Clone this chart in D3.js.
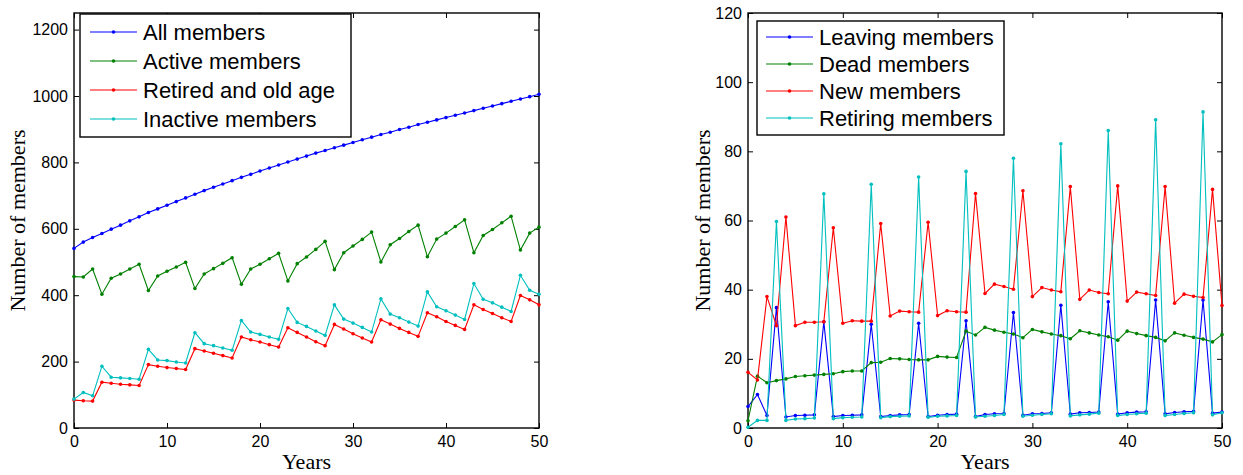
<!DOCTYPE html>
<html>
<head>
<meta charset="utf-8">
<script src="https://cdn.jsdelivr.net/npm/d3@7"></script>
<style>
  body { margin: 0; background: #fff; }
  svg { display: block; }
</style>
</head>
<body>
<svg id="chart"></svg>
<script>
// x values (years 0..50)
const years = d3.range(0, 51);

// left panel: stock of members
const allMembers = [541, 560, 574, 586, 599, 611, 624, 636, 649, 660, 671, 682, 693, 704, 715, 725, 735, 745, 755, 764,
  774, 783, 792, 801, 810, 819, 828, 836, 844, 852, 860, 868, 876, 884, 891, 899, 906, 914, 921, 928,
  935, 942, 949, 956, 963, 970, 977, 984, 991, 998, 1005];
const activeMembers = [456, 455, 479, 403, 451, 464, 479, 493, 414, 458, 472, 485, 499, 420, 464, 480, 496, 513, 433, 479,
  493, 510, 526, 443, 495, 515, 538, 562, 477, 528, 548, 568, 590, 500, 552, 571, 592, 611, 516, 569,
  587, 607, 627, 528, 580, 598, 618, 638, 536, 587, 605];
const retiredMembers = [84, 82, 81, 138, 135, 132, 130, 128, 191, 186, 182, 179, 176, 239, 232, 225, 218, 211, 274, 266,
  259, 251, 244, 302, 288, 274, 260, 248, 312, 298, 284, 271, 259, 326, 313, 300, 288, 276, 347, 335,
  321, 309, 297, 371, 357, 345, 332, 321, 399, 386, 371];
const inactiveMembers = [87, 107, 97, 186, 153, 151, 149, 147, 237, 205, 203, 199, 196, 287, 254, 248, 241, 234, 324, 289,
  282, 274, 267, 360, 318, 306, 292, 279, 371, 328, 316, 303, 289, 389, 343, 332, 319, 307, 410, 365,
  353, 340, 327, 435, 388, 377, 364, 351, 460, 415, 403];

// right panel: flows of members
const leavingMembers = [6.2, 9.7, 3.6, 34.8, 3.2, 3.6, 3.7, 3.8, 30.7, 3.3, 3.6, 3.7, 3.8, 30.0, 3.3, 3.6, 3.8, 3.9, 30.3, 3.3,
  3.7, 3.9, 4.0, 31.0, 3.3, 3.9, 4.1, 4.2, 33.4, 3.7, 4.1, 4.2, 4.4, 35.5, 4.0, 4.4, 4.5, 4.6, 36.5, 4.0,
  4.4, 4.6, 4.7, 37.0, 4.1, 4.5, 4.7, 4.8, 37.0, 4.3, 4.6];
const deadMembers = [2.1, 15.0, 13.1, 13.7, 14.2, 14.9, 15.1, 15.3, 15.5, 15.7, 16.3, 16.5, 16.5, 18.9, 19.0, 20.1, 20.0, 19.8, 19.7, 19.7,
  20.7, 20.5, 20.4, 28.0, 26.9, 29.1, 28.3, 27.7, 27.2, 26.1, 28.5, 27.8, 27.2, 26.7, 25.8, 28.1, 27.5, 26.9, 26.4, 25.4,
  28.0, 27.3, 26.7, 26.2, 25.2, 27.5, 26.8, 26.2, 25.7, 24.9, 27.0];
const newMembers = [16.1, 13.9, 38.0, 29.6, 61.0, 29.6, 30.6, 30.6, 30.7, 57.9, 30.3, 31.0, 30.9, 30.9, 59.1, 32.4, 33.8, 33.6, 33.5, 59.5,
  32.5, 33.9, 33.6, 33.5, 67.8, 38.9, 41.6, 40.9, 40.1, 68.6, 38.0, 40.6, 39.9, 39.4, 69.8, 37.2, 39.9, 39.2, 38.8, 70.0,
  36.7, 39.3, 38.8, 38.3, 69.8, 36.1, 38.7, 38.1, 37.7, 69.0, 35.4];
const retiringMembers = [0.2, 2.2, 2.2, 59.7, 2.2, 2.6, 2.7, 2.9, 67.7, 2.7, 3.0, 3.1, 3.2, 70.5, 3.0, 3.3, 3.4, 3.5, 72.6, 3.1,
  3.4, 3.5, 3.6, 74.2, 3.2, 3.4, 3.6, 3.9, 78.0, 3.4, 3.7, 3.9, 4.1, 82.2, 3.5, 3.8, 4.0, 4.3, 86.0, 3.6,
  3.9, 4.1, 4.3, 89.1, 3.6, 3.9, 4.2, 4.4, 91.4, 3.8, 4.4];

const leftNames = ['All members', 'Active members', 'Retired and old age', 'Inactive members'];
const rightNames = ['Leaving members', 'Dead members', 'New members', 'Retiring members'];
const leftTicksY = [0, 200, 400, 600, 800, 1000, 1200];
const rightTicksY = [0, 20, 40, 60, 80, 100, 120];
const ticksX = [0, 10, 20, 30, 40, 50];

const colors = ['#0000ff', '#008000', '#ff0000', '#00bfbf'];

const W = 1243, H = 475;
const svg = d3.select('#chart').attr('width', W).attr('height', H);
svg.append('rect').attr('width', W).attr('height', H).attr('fill', '#fff');

const sans = 'Liberation Sans, Arial, sans-serif';
const serif = 'Liberation Serif, Times New Roman, serif';

function panel(opt) {
  const x = d3.scaleLinear().domain([0, 50]).range([opt.x0, opt.x1]);
  const y = d3.scaleLinear().domain([0, opt.ymax]).range([opt.yb, opt.yt]);
  const g = svg.append('g');

  // ticks pointing inwards, MATLAB style
  g.append('g')
  .attr('transform', `translate(0, ${opt.yb})`)
  .call(d3.axisBottom(x).tickValues(ticksX).tickFormat(d3.format('d'))
    .tickSizeInner(-5).tickSizeOuter(0).tickPadding(8));
  g.append('g')
  .attr('transform', `translate(0, ${opt.yt})`)
  .call(d3.axisTop(x).tickValues(ticksX).tickSizeInner(-5).tickSizeOuter(0).tickFormat(''));
  g.append('g')
  .attr('transform', `translate(${opt.x0}, 0)`)
  .call(d3.axisLeft(y).tickValues(opt.ticksY).tickFormat(d3.format('d'))
    .tickSizeInner(-5).tickSizeOuter(0).tickPadding(6));
  g.append('g')
  .attr('transform', `translate(${opt.x1}, 0)`)
  .call(d3.axisRight(y).tickValues(opt.ticksY).tickSizeInner(-5).tickSizeOuter(0).tickFormat(''));

  g.selectAll('.domain').remove();
  g.selectAll('.tick line').attr('stroke', '#000');
  g.selectAll('.tick text')
  .style('font-family', sans)
  .style('font-size', '16px')
  .attr('fill', '#000');

  g.append('rect')
  .attr('x', opt.x0).attr('y', opt.yt)
  .attr('width', opt.x1 - opt.x0).attr('height', opt.yb - opt.yt)
  .attr('fill', 'none').attr('stroke', '#000').attr('stroke-width', 1.4);

  const line = d3.line().x((d, i) => x(years[i])).y(d => y(d));

  opt.series.forEach((s, k) => {
    g.append('path')
    .datum(s)
    .attr('d', line)
    .attr('fill', 'none')
    .attr('stroke', colors[k])
    .attr('stroke-width', 1.1);
    g.selectAll(null)
    .data(s)
    .enter()
    .append('circle')
    .attr('cx', (d, i) => x(years[i]))
    .attr('cy', d => y(d))
    .attr('r', 1.8)
    .attr('fill', colors[k]);
  });

  g.append('text')
  .attr('x', (opt.x0 + opt.x1) / 2)
  .attr('y', 469)
  .attr('text-anchor', 'middle')
  .style('font-family', serif)
  .style('font-size', '22px')
  .text('Years');

  g.append('text')
  .attr('transform', `translate(${opt.ylabX}, ${(opt.yt + opt.yb) / 2}) rotate(-90)`)
  .attr('text-anchor', 'middle')
  .style('font-family', serif)
  .style('font-size', '22px')
  .text('Number of members');

  // legend
  const lg = opt.legend;
  g.append('rect')
  .attr('x', lg.x).attr('y', lg.y)
  .attr('width', lg.w).attr('height', lg.h)
  .attr('fill', '#fff').attr('stroke', '#000').attr('stroke-width', 1.4);
  opt.names.forEach((name, k) => {
    const cy = lg.y + lg.first + k * lg.step;
    g.append('line')
    .attr('x1', lg.x + lg.l0).attr('x2', lg.x + lg.l0 + 47)
    .attr('y1', cy).attr('y2', cy)
    .attr('stroke', colors[k]).attr('stroke-width', 1.1);
    g.append('circle')
    .attr('cx', lg.x + lg.l0 + 23.5).attr('cy', cy)
    .attr('r', 1.8).attr('fill', colors[k]);
    g.append('text')
    .attr('x', lg.x + lg.l0 + 53)
    .attr('y', cy)
    .attr('dy', '0.35em')
    .style('font-family', sans)
    .style('font-size', lg.fs)
    .text(name);
  });
}

panel({
  x0: 74, x1: 539, yt: 13, yb: 428, ymax: 1250,
  ticksY: leftTicksY, ylabX: 25,
  series: [allMembers, activeMembers, retiredMembers, inactiveMembers],
  names: leftNames,
  legend: {x: 80, y: 14, w: 271, h: 123, first: 18, step: 29, l0: 10, fs: '22px'}
});

panel({
  x0: 748, x1: 1222, yt: 13, yb: 428, ymax: 120,
  ticksY: rightTicksY, ylabX: 710,
  series: [leavingMembers, deadMembers, newMembers, retiringMembers],
  names: rightNames,
  legend: {x: 757, y: 21, w: 247, h: 114, first: 16, step: 27, l0: 9, fs: '22px'}
});
</script>
</body>
</html>
